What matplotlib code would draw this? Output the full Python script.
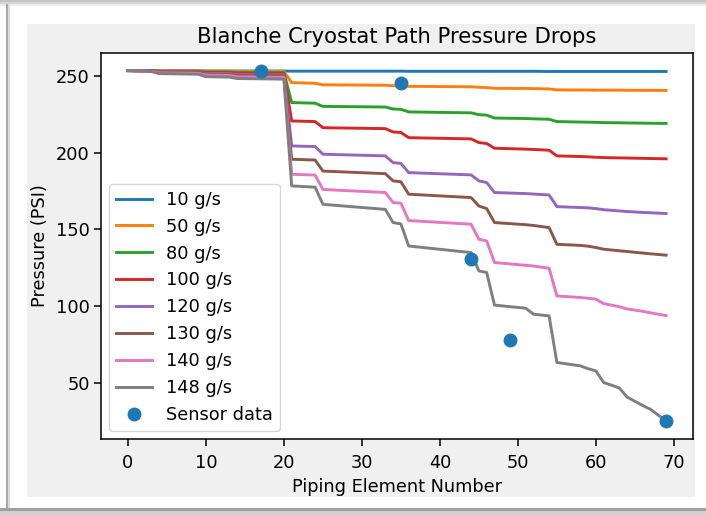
import matplotlib
matplotlib.use("Agg")
import matplotlib.pyplot as plt
from matplotlib.patches import Rectangle

# Piping element numbers at which the curves change slope
element = [0, 3, 4, 9, 10, 13, 14, 20, 21, 24, 25, 33, 34, 35, 36, 44, 45, 46, 47,
           51, 52, 54, 55, 58, 59, 60, 61, 63, 64, 66, 67, 69]

p_10 = [253.4, 253.4, 253.4, 253.4, 253.3, 253.3, 253.3, 253.3, 253.2, 253.2, 253.2, 253.2,
        253.2, 253.2, 253.1, 253.1, 253.1, 253.1, 253.1, 253.1, 253.1, 253.0, 253.0, 253.0,
        253.0, 253.0, 253.0, 253.0, 253.0, 253.0, 253.0, 253.0]
p_50 = [253.6, 253.6, 253.4, 253.4, 253.2, 253.2, 253.0, 253.0, 245.7, 245.3, 244.3, 244.0,
        243.7, 243.6, 243.3, 243.0, 242.7, 242.5, 242.0, 241.9, 241.8, 241.6, 241.0, 240.9,
        240.9, 240.8, 240.8, 240.8, 240.7, 240.7, 240.7, 240.6]
p_80 = [253.6, 253.5, 253.2, 253.1, 252.8, 252.7, 252.4, 252.3, 232.7, 232.3, 230.2, 229.8,
        228.5, 228.3, 226.6, 226.0, 224.8, 224.5, 222.6, 222.3, 222.1, 221.8, 220.3, 220.0,
        219.9, 219.8, 219.6, 219.5, 219.4, 219.3, 219.2, 219.1]
p_100 = [253.6, 253.4, 253.0, 252.8, 252.3, 252.2, 251.8, 251.6, 220.7, 220.3, 216.3, 215.7,
         213.5, 213.2, 209.8, 209.0, 206.6, 206.0, 202.9, 202.3, 202.1, 201.6, 197.9, 197.5,
         197.3, 197.0, 196.8, 196.6, 196.5, 196.3, 196.2, 196.0]
p_120 = [253.6, 253.3, 252.7, 252.5, 251.8, 251.6, 251.0, 250.8, 204.4, 204.0, 199.0, 197.9,
         193.5, 193.0, 187.0, 185.5, 181.6, 180.5, 174.0, 173.3, 173.0, 172.4, 164.8, 164.2,
         164.0, 163.5, 162.8, 162.0, 161.6, 161.0, 160.8, 160.3]
p_130 = [253.6, 253.2, 252.4, 252.2, 251.2, 251.0, 250.3, 250.1, 195.7, 195.2, 188.0, 186.3,
         181.6, 181.0, 172.9, 170.7, 165.2, 163.5, 154.4, 153.0, 152.5, 151.1, 140.2, 139.5,
         139.0, 138.1, 137.0, 136.0, 135.5, 134.5, 134.0, 133.1]
p_140 = [253.6, 253.1, 252.1, 251.8, 250.6, 250.4, 249.5, 249.2, 185.9, 185.4, 176.0, 174.0,
         167.5, 167.0, 155.7, 153.3, 143.5, 142.4, 128.3, 126.5, 126.0, 124.6, 106.5, 105.5,
         105.0, 104.4, 101.5, 99.5, 98.0, 96.5, 95.5, 93.7]
p_148 = [253.6, 253.0, 251.6, 251.2, 249.6, 249.3, 248.4, 248.0, 178.3, 177.5, 166.3, 163.0,
         154.4, 153.5, 139.1, 134.8, 122.8, 121.8, 100.5, 98.5, 94.6, 93.5, 63.1, 60.9,
         59.0, 57.6, 50.0, 46.5, 40.5, 35.0, 32.5, 25.0]

series_labels = ["10 g/s", "50 g/s", "80 g/s", "100 g/s", "120 g/s", "130 g/s", "140 g/s", "148 g/s"]
series_values = [p_10, p_50, p_80, p_100, p_120, p_130, p_140, p_148]

sensor_x = [17, 35, 44, 49, 69]
sensor_y = [253.3, 245.7, 130.5, 77.6, 24.6]

W, H = 706, 515
fig = plt.figure(figsize=(W / 100, H / 100), dpi=100, facecolor="white")

# screenshot-like frame
def px_rect(x0, y0, x1, y1, color, z=-10):
    fig.patches.append(Rectangle((x0 / W, 1 - y1 / H), (x1 - x0) / W, (y1 - y0) / H,
                                 transform=fig.transFigure, facecolor=color,
                                 edgecolor="none", zorder=z))

px_rect(0, 0, W, 2, "#c4c4c4")
px_rect(0, 2, W, 4, "#d6d6d6")
px_rect(0, 4, W, 6, "#ececec")
px_rect(6, 4, 8, 510, "#a8a8a8")
px_rect(8, 4, 10, 510, "#dcdcdc")
px_rect(0, 508, W, 511, "#a0a0a0")
px_rect(0, 511, W, H, "#d0d0d0")
px_rect(27, 24, 695, 497, "#f0f0f0")

ax = fig.add_axes([101 / W, 1 - 439 / H, (693 - 101) / W, (439 - 53) / H])
ax.set_facecolor("white")

for lab, vals in zip(series_labels, series_values):
    ax.plot(element, vals, label=lab, linewidth=2.1)
ax.plot(sensor_x, sensor_y, "o", color="#1f77b4", markersize=9, label="Sensor data")

fs = 12.8
ax.set_title("Blanche Cryostat Path Pressure Drops", fontsize=15.2, pad=7)
ax.set_xlabel("Piping Element Number", fontsize=fs, labelpad=4)
ax.set_ylabel("Pressure (PSI)", fontsize=fs, labelpad=5)
ax.tick_params(labelsize=fs, length=5, width=1.1, pad=3)
ax.tick_params(axis="x", pad=6)
ax.set_xticks(range(0, 71, 10))
ax.set_yticks([50, 100, 150, 200, 250])
for s in ax.spines.values():
    s.set_linewidth(1.1)

ax.legend(loc="lower left", fontsize=fs, handlelength=2.0, borderaxespad=0.45)

fig.savefig("out.png", dpi=100, facecolor=fig.get_facecolor())
